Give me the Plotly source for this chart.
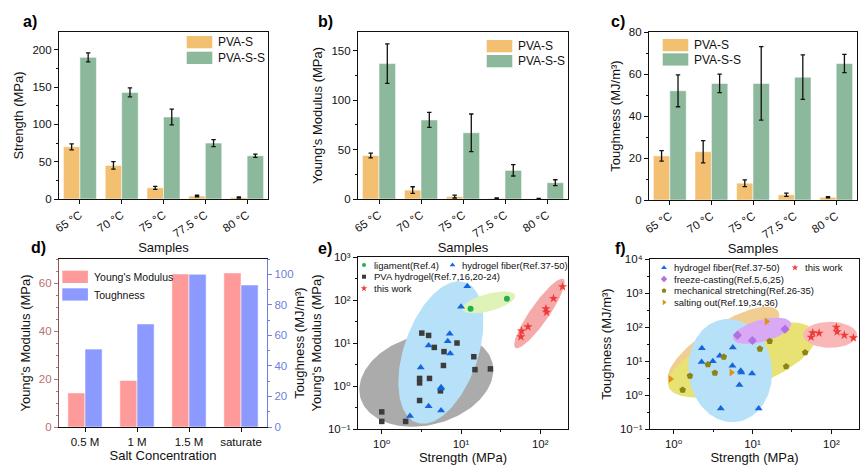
import numpy as np
import plotly.graph_objects as go

W, H = 865, 472
FONT = "Arial, 'Liberation Sans', 'DejaVu Sans', Helvetica, sans-serif"

# ---------------- data ----------------
temps = ["65 °C", "70 °C", "75 °C", "77.5 °C", "80 °C"]
strength_s = [70, 45, 15, 4, 2]
strength_s_err = [4, 5, 2, 1, 0.8]
strength_ss = [190, 143, 110, 75, 58]
strength_ss_err = [6, 6, 10.5, 4.7, 2.2]
modulus_s = [44, 9, 2.5, 0.7, 0.3]
modulus_s_err = [2.4, 3.4, 1.5, 0.4, 0.2]
modulus_ss = [137, 80, 67, 29, 16.5]
modulus_ss_err = [20, 7.6, 19, 5.7, 3]
tough_s = [21, 23, 8, 2.5, 1.3]
tough_s_err = [2.5, 5.3, 1.6, 0.8, 0.3]
tough_ss = [52, 55.5, 55.5, 58.5, 65]
tough_ss_err = [7.6, 4.4, 17.5, 10.6, 4.3]

salt = ["0.5 M", "1 M", "1.5 M", "saturate"]
salt_modulus = [14.2, 19.4, 63.8, 64.2]
salt_tough = [51, 67.5, 100, 93]

# panel e: strength (MPa) vs toughness / modulus
lig_x = [13.2, 38]
lig_y = [62.5, 107]
fiber_e_x = [12.0, 10, 7.2, 6.8, 7.3, 3.9, 3.1, 5.6, 5.6, 3.9, 5.6, 2.27]
fiber_e_y = [210, 70, 16.4, 11, 5.7, 8.7, 2.7, 0.93, 0.88, 0.34, 0.27, 0.2]
pva_x = [3.2, 3.9, 4.6, 6.1, 8.9, 6.0, 14.5, 15, 23.5, 3.0, 3.0, 4.0, 3.0, 5.5, 1.0, 1.0, 2.0]
pva_y = [17, 15, 7.9, 6.3, 10, 3.0, 4.8, 2.4, 2.5, 1.5, 1.18, 1.5, 0.46, 0.77, 0.25, 0.15, 0.15]
work_e_x = [191, 147, 118, 120, 70, 58, 57]
work_e_y = [204, 109, 62.5, 52, 23.8, 19, 14]

# panel f: strength (MPa) vs toughness
fiber_f_x = [2.28, 5.62, 2.26, 3.14, 3.85, 5.56, 7.09, 7.22, 9.86, 6.82, 3.96, 11.97]
fiber_f_y = [23.8, 24.9, 9.4, 9.9, 14.2, 7.2, 5.2, 4.6, 4.3, 1.98, 0.40, 0.40]
freeze_x = [6.43, 9.95, 25.8]
freeze_y = [57.6, 40, 86.5]
stretch_x = [1.30, 1.61, 2.72, 3.33, 4.32, 12.4, 16.5, 26.7, 46.5]
stretch_y = [1.41, 3.65, 7.87, 4.47, 13.2, 22.8, 38.3, 6.9, 17.8]
saltout_x = [0.91, 5.4, 15.1]
saltout_y = [2.97, 4.57, 145]
work_f_x = [58, 69.8, 55.3, 115.6, 118, 146, 190]
work_f_y = [67.5, 66, 50.3, 99, 72, 57.5, 48]

log_ticks_x = [1, 10, 100]
log_text_x = ["10⁰", "10¹", "10²"]
log_ticks_ye = [0.1, 1, 10, 100, 1000]
log_text_ye = ["10⁻¹", "10⁰", "10¹", "10²", "10³"]
log_ticks_yf = [0.1, 1, 10, 100, 1000, 10000]
log_text_yf = log_text_ye + ["10⁴"]

# ---------------- styles ----------------
C_S, C_SS = "#F2C070", "#8CB89B"
C_YM, C_TO = "#FF9A9A", "#8C9AFF"
C_LEFT, C_RIGHT = "#B87070", "#6F7FDB"

# panel plot areas in px: x0, x1, ytop, ybottom
P = {
    "a": (59, 268, 32, 199),
    "b": (358, 568, 32, 199),
    "c": (649, 857, 32, 200),
    "d": (59, 267, 259, 427),
    "e": (358, 568, 257, 429),
    "f": (650, 859, 259, 429),
}


def dom(k):
    x0, x1, y0, y1 = P[k]
    return [x0 / W, x1 / W], [1 - y1 / H, 1 - y0 / H]


def px(x):
    return x / W


def py(y):
    return 1 - y / H


fig = go.Figure()

BW = 0.395


def add_bars(xa, ya, cats, v1, e1, v2, e2, bw=BW):
    for vals, errs, col, off in ((v1, e1, C_S, -bw), (v2, e2, C_SS, 0)):
        fig.add_trace(go.Bar(
            x=cats, y=vals, offset=off, width=bw,
            marker=dict(color=col, line=dict(color="rgba(255,255,255,0.55)", width=1)),
            error_y=dict(type="data", array=errs, color="#111", thickness=1.3, width=2.2),
            xaxis=xa, yaxis=ya, showlegend=False, hoverinfo="skip"))


add_bars("x", "y", temps, strength_s, strength_s_err, strength_ss, strength_ss_err)
add_bars("x2", "y2", temps, modulus_s, modulus_s_err, modulus_ss, modulus_ss_err)
add_bars("x3", "y3", temps, tough_s, tough_s_err, tough_ss, tough_ss_err)

DW = 0.33
fig.add_trace(go.Bar(x=salt, y=salt_modulus, offset=-DW, width=DW,
                     marker=dict(color=C_YM, line=dict(color="rgba(255,255,255,0.55)", width=1)),
                     xaxis="x4", yaxis="y4", showlegend=False, hoverinfo="skip"))
fig.add_trace(go.Bar(x=salt, y=salt_tough, offset=0, width=DW,
                     marker=dict(color=C_TO, line=dict(color="rgba(255,255,255,0.55)", width=1)),
                     xaxis="x4", yaxis="y7", showlegend=False, hoverinfo="skip"))

# ---------------- ellipses (decorative regions) ----------------
XR = [-0.3, 2.35]
YRE = [-1, 3]
YRF = [-1, 4]


def px_per_dec(k, yr):
    x0, x1, y0, y1 = P[k]
    return (x1 - x0) / (XR[1] - XR[0]), (y1 - y0) / (yr[1] - yr[0])


def ellipse(cx, cy, a, b, ang, sx, sy, n=160):
    t = np.linspace(0, 2 * np.pi, n)
    th = np.deg2rad(ang)
    dx = a * np.cos(t) * np.cos(th) - b * np.sin(t) * np.sin(th)
    dy = a * np.cos(t) * np.sin(th) + b * np.sin(t) * np.cos(th)
    return 10 ** (cx + dx / sx), 10 ** (cy + dy / sy)


ELL_E = [  # log-center x, log-center y, semi-axes (px), angle, colour
    (0.562, 0.142, 68.3, 45, 15, "#ABABAB"),
    (0.746, 0.779, 74.3, 37, 71, "#B7E1F8"),
    (1.35, 1.944, 27.3, 8.7, 15, "#DFF2B8"),
    (1.99, 1.687, 42, 9.3, 55, "#F5A9A9"),
]
ELL_F = [
    (0.632, 1.426, 65, 21.7, 33, "#F2CD92"),
    (0.867, 1.033, 78.3, 28.3, 20, "#E8E274"),
    (0.716, 0.719, 51.7, 41.7, 97, "#B7E1F8"),
    (1.12, 1.888, 30, 11, 15, "#DAA9F5"),
    (1.983, 1.77, 27, 13, 0, "#F9B7B7"),
]

for k, ells, yr, xa, ya in (("e", ELL_E, YRE, "x5", "y5"), ("f", ELL_F, YRF, "x6", "y6")):
    sx, sy = px_per_dec(k, yr)
    for cx, cy, a, b, ang, col in ells:
        ex, ey = ellipse(cx, cy, a, b, ang, sx, sy)
        fig.add_trace(go.Scatter(x=ex, y=ey, mode="lines", fill="toself", fillcolor=col,
                                 line=dict(width=0, color=col), xaxis=xa, yaxis=ya,
                                 showlegend=False, hoverinfo="skip"))

M_GREEN = dict(symbol="circle", size=6, color="#22B04C")
M_BLUE = dict(symbol="triangle-up", size=7, color="#1565DC")
M_GRAY = dict(symbol="square", size=5.5, color="#3C3C3C")
M_RED = dict(symbol="star", size=7, color="#F03A3A")
M_PURP = dict(symbol="diamond", size=7, color="#B070E0")
M_OLIVE = dict(symbol="pentagon", size=7, color="#8A8514")
M_ORNG = dict(symbol="triangle-right", size=7, color="#E0920E")

for xs, ys, m, xa, ya in (
        (pva_x, pva_y, M_GRAY, "x5", "y5"),
        (lig_x, lig_y, M_GREEN, "x5", "y5"),
        (fiber_e_x, fiber_e_y, M_BLUE, "x5", "y5"),
        (work_e_x, work_e_y, M_RED, "x5", "y5"),
        (fiber_f_x, fiber_f_y, M_BLUE, "x6", "y6"),
        (freeze_x, freeze_y, M_PURP, "x6", "y6"),
        (stretch_x, stretch_y, M_OLIVE, "x6", "y6"),
        (saltout_x, saltout_y, M_ORNG, "x6", "y6"),
        (work_f_x, work_f_y, M_RED, "x6", "y6")):
    fig.add_trace(go.Scatter(x=xs, y=ys, mode="markers", marker=m, xaxis=xa, yaxis=ya,
                             showlegend=False, hoverinfo="skip"))

# ---------------- legends ----------------
shapes, annos = [], []


def rect_leg(x0, y0, col, text, fs=12):
    shapes.append(dict(type="rect", xref="paper", yref="paper", x0=px(x0), x1=px(x0 + 25.6),
                       y0=py(y0), y1=py(y0 + 12.3), fillcolor=col, line=dict(width=0)))
    annos.append(dict(xref="paper", yref="paper", x=px(x0 + 29.5), y=py(y0 + 6.2), text=text,
                      showarrow=False, xanchor="left", yanchor="middle",
                      font=dict(size=fs, color="#111")))


rect_leg(186.7, 36, C_S, "PVA-S")
rect_leg(186.7, 51.7, C_SS, "PVA-S-S")
rect_leg(486.7, 40, C_S, "PVA-S")
rect_leg(486.7, 55, C_SS, "PVA-S-S")
rect_leg(662.7, 39, C_S, "PVA-S")
rect_leg(662.7, 53.3, C_SS, "PVA-S-S")
rect_leg(62.3, 270.7, C_YM, "Young's Modulus", fs=10.5)
rect_leg(62.3, 288.3, C_TO, "Toughness", fs=10.5)


def mark_leg(x, y, m, text):
    mm = dict(m)
    mm["size"] = max(m["size"] - 2, 4)
    fig.add_trace(go.Scatter(x=[x], y=[y], mode="markers", marker=mm, xaxis="x8", yaxis="y8",
                             showlegend=False, hoverinfo="skip"))
    annos.append(dict(xref="paper", yref="paper", x=px(x + 7.5), y=py(y), text=text,
                      showarrow=False, xanchor="left", yanchor="middle",
                      font=dict(size=9.5, color="#111")))


mark_leg(364, 265, M_GREEN, "ligament(Ref.4)")
mark_leg(364, 276.7, M_GRAY, "PVA hydrogel(Ref.7,16,20-24)")
mark_leg(364, 288.3, M_RED, "this work")
mark_leg(452.5, 265, M_BLUE, "hydrogel fiber(Ref.37-50)")

mark_leg(664, 267.7, M_BLUE, "hydrogel fiber(Ref.37-50)")
mark_leg(664, 279, M_PURP, "freeze-casting(Ref.5,6,25)")
mark_leg(664, 290.7, M_OLIVE, "mechanical stretching(Ref.26-35)")
mark_leg(664, 302.3, M_ORNG, "salting out(Ref.19,34,36)")
mark_leg(795, 267.7, M_RED, "this work")

for lbl, x, y in (("a)", 30, 22), ("b)", 325, 22), ("c)", 618, 22),
                  ("d)", 38, 247), ("e)", 325, 248), ("f)", 620, 248)):
    annos.append(dict(xref="paper", yref="paper", x=px(x), y=py(y), text="<b>%s</b>" % lbl,
                      showarrow=False, xanchor="center", yanchor="middle",
                      font=dict(size=16, color="#000")))

# ---------------- axes ----------------
TF = dict(size=11.5, color="#111")
TT = dict(size=13, color="#111")


def base_axis(**kw):
    d = dict(showline=True, linecolor="#111", linewidth=1.2, mirror=True, ticks="outside",
             ticklen=4, tickwidth=1.2, tickcolor="#111", showgrid=False, zeroline=False,
             automargin=False, tickfont=TF, fixedrange=True)
    d.update(kw)
    return d


lay = {}
for i, (k, yr, dt, ytitle) in enumerate((("a", [0, 224], 50, "Strength (MPa)"),
                                         ("b", [0, 169], 50, "Young's Modulus (MPa)"),
                                         ("c", [0, 80], 20, "Toughness (MJ/m³)"))):
    n = "" if i == 0 else str(i + 1)
    xd, yd = dom(k)
    lay["xaxis" + n] = base_axis(domain=xd, anchor="y" + n, type="category", tickangle=-33,
                                 range=[-0.5, 4.5],
                                 title=dict(text="Samples", font=TT, standoff=0))
    lay["yaxis" + n] = base_axis(domain=yd, anchor="x" + n, range=yr, dtick=dt,
                                 minor=dict(ticks="outside", ticklen=2, tickcolor="#111", dtick=dt / 2),
                                 title=dict(text=ytitle, font=TT, standoff=5))

xd, yd = dom("d")
lay["xaxis4"] = base_axis(domain=xd, anchor="y4", type="category", range=[-0.5, 3.5],
                          title=dict(text="Salt Concentration", font=TT, standoff=1))
lay["yaxis4"] = base_axis(domain=yd, anchor="x4", range=[0, 70], dtick=20, mirror=False,
                          linecolor="#8E5555", tickcolor=C_LEFT, tickfont=dict(size=11.5, color=C_LEFT),
                          minor=dict(ticks="outside", ticklen=2, tickcolor=C_LEFT, dtick=5),
                          title=dict(text="Young's Modulus (MPa)", font=TT, standoff=5))
lay["yaxis7"] = base_axis(overlaying="y4", anchor="x4", side="right", range=[0, 110], dtick=20,
                          mirror=False, linecolor=C_RIGHT, tickcolor=C_RIGHT,
                          tickfont=dict(size=11.5, color=C_RIGHT),
                          minor=dict(ticks="outside", ticklen=2, tickcolor=C_RIGHT, dtick=10))

minor_x = [10 ** (k + 0.5) for k in range(-1, 3)]
xd, yd = dom("e")
lay["xaxis5"] = base_axis(domain=xd, anchor="y5", type="log", range=XR, tickvals=log_ticks_x,
                          ticktext=log_text_x,
                          minor=dict(ticks="outside", ticklen=2, tickcolor="#111", tickvals=minor_x),
                          title=dict(text="Strength (MPa)", font=TT, standoff=2))
lay["yaxis5"] = base_axis(domain=yd, anchor="x5", type="log", range=YRE, tickvals=log_ticks_ye,
                          ticktext=log_text_ye,
                          minor=dict(ticks="outside", ticklen=2, tickcolor="#111",
                                     tickvals=[10 ** (k + 0.5) for k in range(-1, 3)]),
                          title=dict(text="Toughness (MJ/m³)<br>Young's Modulus (MPa)",
                                     font=TT, standoff=3))
xd, yd = dom("f")
lay["xaxis6"] = base_axis(domain=xd, anchor="y6", type="log", range=XR, tickvals=log_ticks_x,
                          ticktext=log_text_x,
                          minor=dict(ticks="outside", ticklen=2, tickcolor="#111", tickvals=minor_x),
                          title=dict(text="Strength (MPa)", font=TT, standoff=2))
lay["yaxis6"] = base_axis(domain=yd, anchor="x6", type="log", range=YRF, tickvals=log_ticks_yf,
                          ticktext=log_text_yf,
                          minor=dict(ticks="outside", ticklen=2, tickcolor="#111",
                                     tickvals=[10 ** (k + 0.5) for k in range(-1, 4)]),
                          title=dict(text="Toughness (MJ/m³)", font=TT, standoff=5))

# pixel overlay used only for the legend marker glyphs
lay["xaxis8"] = dict(domain=[0, 1], range=[0, W], visible=False, fixedrange=True, anchor="y8")
lay["yaxis8"] = dict(domain=[0, 1], range=[H, 0], visible=False, fixedrange=True, anchor="x8")

fig.update_layout(
    template="none",
    width=W, height=H, autosize=False,
    margin=dict(l=0, r=0, t=0, b=0, pad=0),
    paper_bgcolor="white", plot_bgcolor="rgba(0,0,0,0)",
    font=dict(family=FONT, size=12, color="#111"),
    showlegend=False,
    shapes=shapes, annotations=annos,
    **lay,
)

fig.write_html("out.html", config={"displayModeBar": False},
               post_script="document.body.style.margin='0px';")
